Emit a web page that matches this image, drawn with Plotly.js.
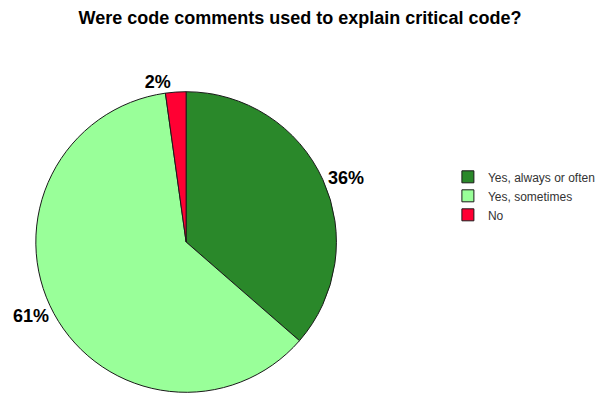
<!DOCTYPE html>
<html>
<head>
<meta charset="utf-8">
<script src="https://cdn.plot.ly/plotly-3.0.1.min.js"></script>
<style>html,body{margin:0;padding:0;background:#fff;}#chart{width:600px;height:394px;}</style>
</head>
<body>
<div id="chart"></div>
<script>
const categories = ["Yes, always or often", "Yes, sometimes", "No"];
const shares = [36.4, 61.4, 2.2];
const sliceColors = ["#2a882a", "#99ff99", "#ff0033"];
const chartTitle = "Were code comments used to explain critical code?";

const trace = {
  type: "pie",
  labels: categories,
  values: shares,
  sort: false,
  direction: "clockwise",
  rotation: 0,
  marker: { colors: sliceColors, line: { color: "#1a1a1a", width: 1 } },
  textposition: "outside",
  texttemplate: "%{percent:.0%}",
  textfont: { family: "Liberation Sans, Arial, sans-serif", size: 18, color: "#000", weight: "bold" },
  automargin: false,
  domain: { x: [0.0837, 0.786], y: [0.0025, 0.769] },
  hoverinfo: "label+percent"
};

const layout = {
  width: 600,
  height: 394,
  margin: { l: 0, r: 170, t: 0, b: 0 },
  paper_bgcolor: "#fff",
  title: {
    text: "<b>" + chartTitle + "</b>",
    xref: "container",
    x: 0.5, xanchor: "center",
    y: 0.955, yanchor: "middle",
    font: { family: "Liberation Sans, Arial, sans-serif", size: 18, color: "#000" }
  },
  showlegend: true,
  legend: {
    x: 1.0465, xanchor: "left",
    y: 0.588, yanchor: "top",
    font: { family: "Liberation Sans, Arial, sans-serif", size: 12, color: "#333" },
    bgcolor: "rgba(0,0,0,0)",
    itemwidth: 30
  }
};

Plotly.newPlot("chart", [trace], layout, { displayModeBar: false, staticPlot: true });
</script>
</body>
</html>
